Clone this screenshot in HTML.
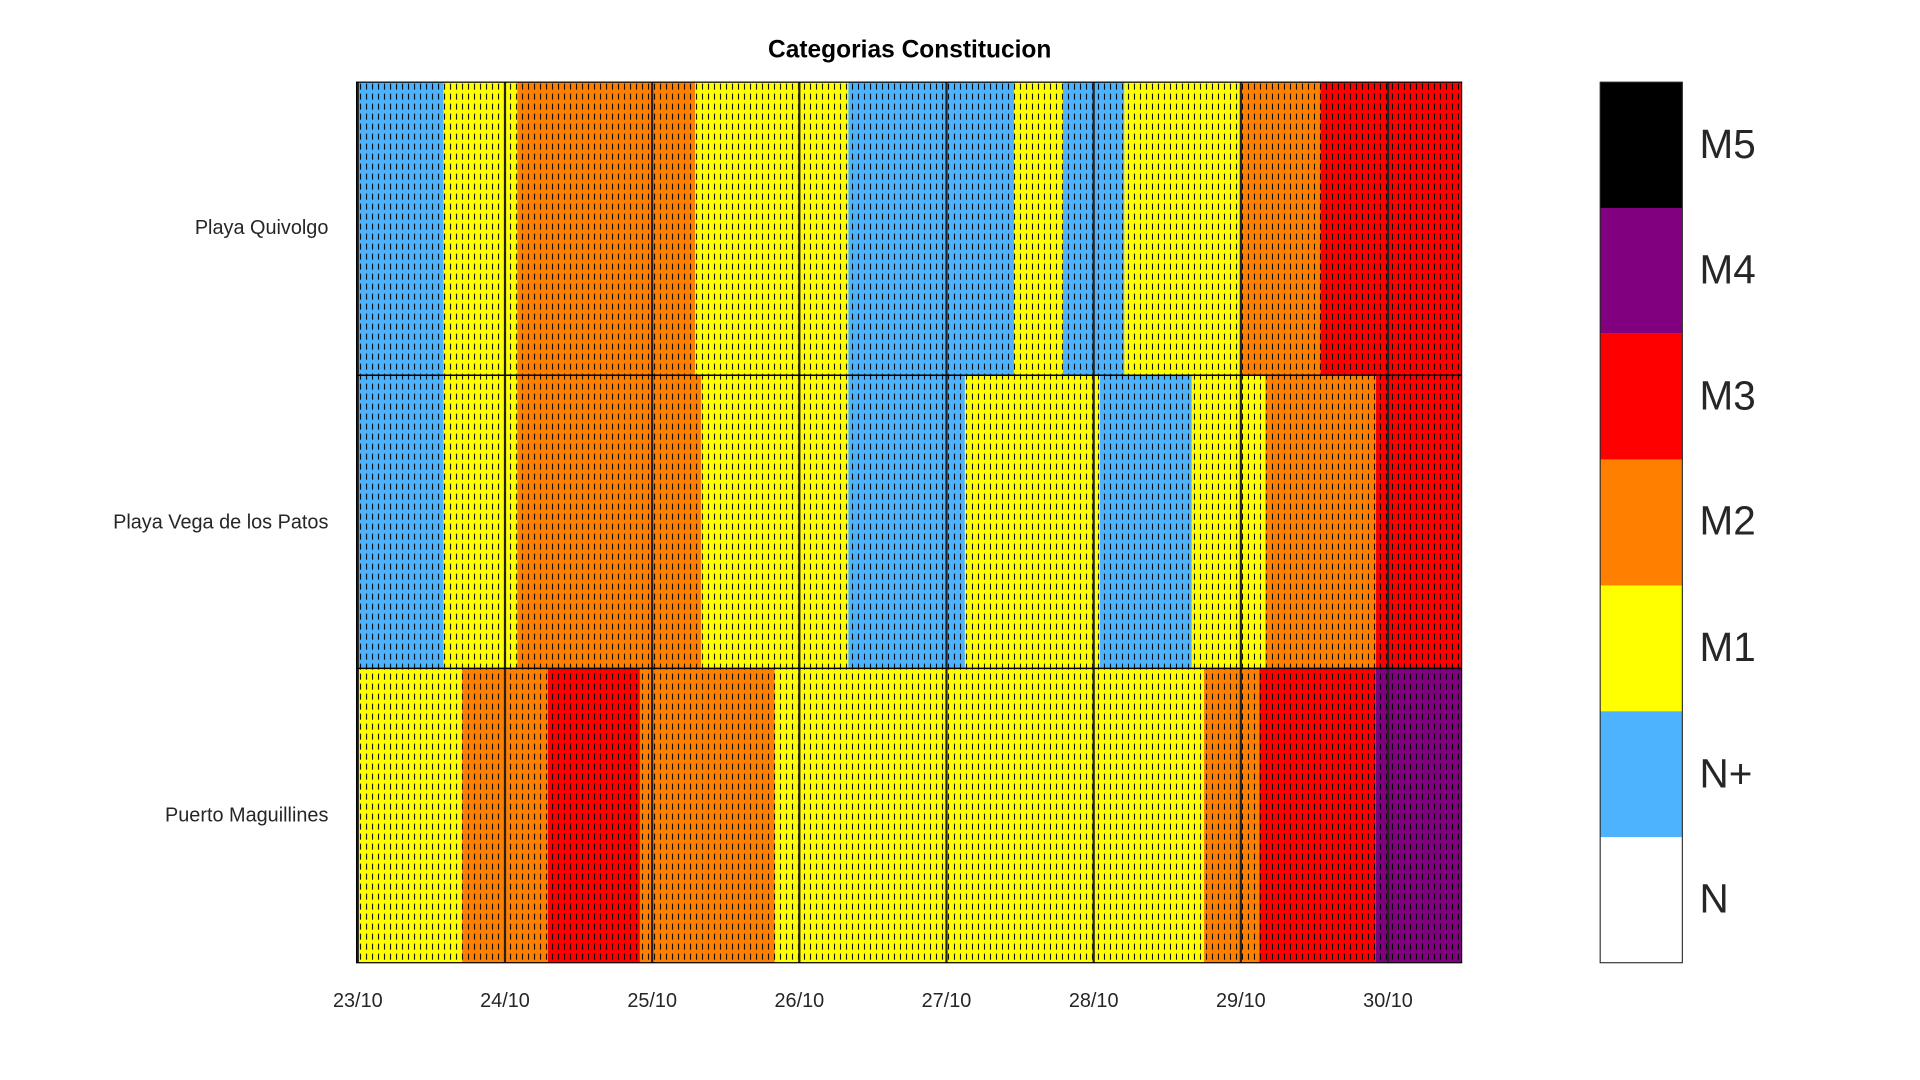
<!DOCTYPE html>
<html><head><meta charset="utf-8"><style>html,body{margin:0;padding:0;background:#fff}svg{display:block}</style></head>
<body>
<svg width="1920" height="1080" xmlns="http://www.w3.org/2000/svg">
<defs>
<pattern id="d" patternUnits="userSpaceOnUse" x="292" y="67" width="4.892" height="8.154">
<rect x="2.8" y="1.2" width="0.85" height="4.9" fill="#000"/>
</pattern>
</defs>
<g transform="translate(-1.5,0) scale(1.2264)" font-family="Liberation Sans, sans-serif">
<text x="743" y="47" text-anchor="middle" font-size="20" font-weight="bold" fill="#000">Categorias Constitucion</text>
<g>
<rect x="292" y="67" width="71" height="239" fill="#4db3ff"/>
<rect x="363" y="67" width="60" height="239" fill="#ffff00"/>
<rect x="423" y="67" width="145" height="239" fill="#ff8000"/>
<rect x="568" y="67" width="125" height="239" fill="#ffff00"/>
<rect x="693" y="67" width="135" height="239" fill="#4db3ff"/>
<rect x="828" y="67" width="40" height="239" fill="#ffff00"/>
<rect x="868" y="67" width="50" height="239" fill="#4db3ff"/>
<rect x="918" y="67" width="95" height="239" fill="#ffff00"/>
<rect x="1013" y="67" width="65" height="239" fill="#ff8000"/>
<rect x="1078" y="67" width="115" height="239" fill="#ff0000"/>
</g>
<g>
<rect x="292" y="306" width="71" height="239" fill="#4db3ff"/>
<rect x="363" y="306" width="60" height="239" fill="#ffff00"/>
<rect x="423" y="306" width="150" height="239" fill="#ff8000"/>
<rect x="573" y="306" width="120" height="239" fill="#ffff00"/>
<rect x="693" y="306" width="95" height="239" fill="#4db3ff"/>
<rect x="788" y="306" width="110" height="239" fill="#ffff00"/>
<rect x="898" y="306" width="75" height="239" fill="#4db3ff"/>
<rect x="973" y="306" width="60" height="239" fill="#ffff00"/>
<rect x="1033" y="306" width="90" height="239" fill="#ff8000"/>
<rect x="1123" y="306" width="70" height="239" fill="#ff0000"/>
</g>
<g>
<rect x="292" y="545" width="86" height="240" fill="#ffff00"/>
<rect x="378" y="545" width="70" height="240" fill="#ff8000"/>
<rect x="448" y="545" width="75" height="240" fill="#ff0000"/>
<rect x="523" y="545" width="110" height="240" fill="#ff8000"/>
<rect x="633" y="545" width="350" height="240" fill="#ffff00"/>
<rect x="983" y="545" width="45" height="240" fill="#ff8000"/>
<rect x="1028" y="545" width="95" height="240" fill="#ff0000"/>
<rect x="1123" y="545" width="70" height="240" fill="#800080"/>
</g>
<rect x="292" y="67" width="901" height="718" fill="url(#d)"/>
<g stroke="#222" stroke-width="1.8">
<line x1="293" y1="67" x2="293" y2="785"/>
<line x1="413" y1="67" x2="413" y2="785"/>
<line x1="533" y1="67" x2="533" y2="785"/>
<line x1="653" y1="67" x2="653" y2="785"/>
<line x1="773" y1="67" x2="773" y2="785"/>
<line x1="893" y1="67" x2="893" y2="785"/>
<line x1="1013" y1="67" x2="1013" y2="785"/>
<line x1="1133" y1="67" x2="1133" y2="785"/>
</g>
<g stroke="#000" stroke-width="1.2">
<line x1="292" y1="306" x2="1193" y2="306"/>
<line x1="292" y1="545" x2="1193" y2="545"/>
</g>
<rect x="292" y="67" width="901" height="718" fill="none" stroke="#000" stroke-width="1"/>
<g font-size="16.2" fill="#262626" text-anchor="end">
<text x="269" y="191">Playa Quivolgo</text>
<text x="269" y="431">Playa Vega de los Patos</text>
<text x="269" y="670">Puerto Maguillines</text>
</g>
<g font-size="16.2" fill="#262626" text-anchor="middle">
<text x="293" y="821">23/10</text>
<text x="413" y="821">24/10</text>
<text x="533" y="821">25/10</text>
<text x="653" y="821">26/10</text>
<text x="773" y="821">27/10</text>
<text x="893" y="821">28/10</text>
<text x="1013" y="821">29/10</text>
<text x="1133" y="821">30/10</text>
</g>
<rect x="1306" y="67" width="67" height="102.6" fill="#000"/>
<rect x="1306" y="169.6" width="67" height="102.6" fill="#800080"/>
<rect x="1306" y="272.2" width="67" height="102.6" fill="#ff0000"/>
<rect x="1306" y="374.8" width="67" height="102.6" fill="#ff8000"/>
<rect x="1306" y="477.4" width="67" height="102.6" fill="#ffff00"/>
<rect x="1306" y="580" width="67" height="102.6" fill="#4db3ff"/>
<rect x="1306" y="682.6" width="67" height="102.4" fill="#fff"/>
<rect x="1306" y="67" width="67" height="718" fill="none" stroke="#262626" stroke-width="0.9"/>
<g font-size="33" fill="#262626">
<text x="1387" y="129">M5</text>
<text x="1387" y="231">M4</text>
<text x="1387" y="334">M3</text>
<text x="1387" y="436">M2</text>
<text x="1387" y="539">M1</text>
<text x="1387" y="642">N+</text>
<text x="1387" y="744">N</text>
</g>
</g>
</svg>
</body></html>
